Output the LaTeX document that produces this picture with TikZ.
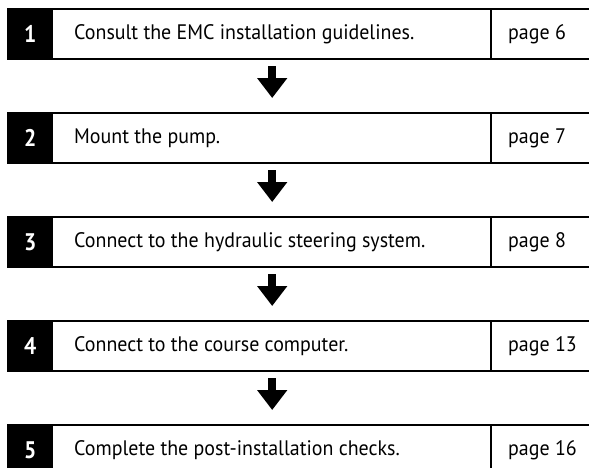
\documentclass[tikz,border=0pt]{standalone}
\usepackage{fontspec}
\setmainfont{PT Sans}
\newfontfamily\condfont[FakeStretch=0.95]{PT Sans}
\newfontfamily\numfont[FakeStretch=0.9]{PT Sans Bold}
\usetikzlibrary{arrows.meta,calc}
\tikzset{
  numbox/.style={fill=black,text=white,font=\numfont\fontsize{24}{26}\selectfont,minimum width=46pt,minimum height=50pt,inner sep=0pt,anchor=north west},
  textcell/.style={minimum width=438pt,minimum height=50pt,inner sep=0pt,anchor=north west},
  stepline/.style={line width=2.6pt},
  txt/.style={font=\condfont\fontsize{21}{24}\selectfont,anchor=west,inner sep=0pt},
  flowarrow/.style={line width=8pt,-{Triangle[width=29pt,length=20pt]}}
}
\begin{document}
\begin{tikzpicture}[x=1pt,y=-1pt]
\useasboundingbox (0,0) rectangle (589,467);
\clip (0,0) rectangle (589,467);
\foreach \i/\t/\p in {1/Consult the EMC installation guidelines./page 6,
                      2/Mount the pump./page 7,
                      3/Connect to the hydraulic steering system./page 8,
                      4/Connect to the course computer./page 13,
                      5/Complete the post-installation checks./page 16}{
  \pgfmathsetmacro{\top}{9+104*(\i-1)}
  \node[numbox] (n\i) at (7,\top) {\i};
  \node[textcell] (s\i) at (53,\top) {};
  \draw[stepline] (7,\top) -- (589,\top);
  \draw[stepline] (7,\top+50) -- (589,\top+50);
  \draw[stepline] (491,\top) -- (491,\top+50);
  \node[txt] (t\i) at (74,\top+25) {\t};
  \node[txt] (p\i) at (508,\top+25) {\p};
}
\foreach \a/\b in {1/2,2/3,3/4,4/5}{
  \draw[flowarrow] ($(s\a.south)+(0,7)$) -- ($(s\b.north)+(0,-15)$);
}
\end{tikzpicture}
\end{document}
